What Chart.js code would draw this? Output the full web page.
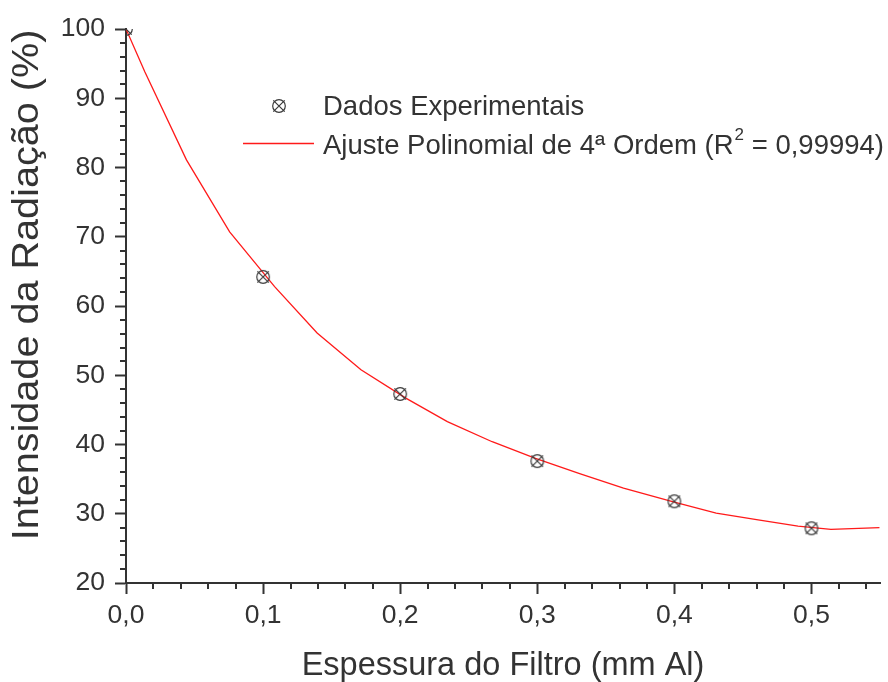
<!DOCTYPE html>
<html><head><meta charset="utf-8">
<script src="https://cdn.jsdelivr.net/npm/chart.js@4"></script>
<style>html,body{margin:0;padding:0;background:#fff}</style>
</head><body>
<canvas id="c" width="888" height="682"></canvas>
<script>
// ---- data ----
const thickness = [0.0, 0.1, 0.2, 0.3, 0.4, 0.5];
const intensity = [100.0, 64.2, 47.3, 37.6, 31.8, 27.9];
const fitX = [0, 0.0138, 0.0441, 0.0756, 0.1084, 0.1394, 0.1714, 0.2041, 0.2344, 0.2671, 0.2987, 0.3309, 0.3629, 0.3993, 0.4305, 0.4611, 0.4902, 0.5142, 0.5496];
const fitY = [100.0, 93.8, 81.1, 70.7, 62.8, 56.1, 50.8, 46.7, 43.3, 40.4, 38.0, 35.8, 33.7, 31.7, 30.1, 29.1, 28.2, 27.75, 28.0];
const xTickValues = [0, 0.1, 0.2, 0.3, 0.4, 0.5];
const xTickLabels = ['0,0', '0,1', '0,2', '0,3', '0,4', '0,5'];
const yTickValues = [20, 30, 40, 50, 60, 70, 80, 90, 100];
const yTickLabels = ['20', '30', '40', '50', '60', '70', '80', '90', '100'];
const xTitle = 'Espessura do Filtro (mm Al)';
const yTitle = 'Intensidade da Radiação (%)';
const legendData = 'Dados Experimentais';
const legendFitPre = 'Ajuste Polinomial de 4ª Ordem (R';
const legendFitSup = '2';
const legendFitPost = ' = 0,99994)';

const FONT = "'Liberation Sans', Arial, Helvetica, sans-serif";
const INK = '#333333';
const RED = '#ff1a1a';

function makeMarker() {
  const c = document.createElement('canvas');
  c.width = 18; c.height = 18;
  const g = c.getContext('2d');
  g.strokeStyle = '#3a3a3a';
  g.lineWidth = 1.2;
  g.beginPath(); g.arc(9, 9, 6.3, 0, 2 * Math.PI); g.stroke();
  g.beginPath();
  g.moveTo(3.3, 3.3); g.lineTo(14.7, 14.7);
  g.moveTo(14.7, 3.3); g.lineTo(3.3, 14.7);
  g.stroke();
  return c;
}
const marker = makeMarker();

const decor = {
  id: 'decor',
  afterDraw(chart) {
    const ctx = chart.ctx;
    const xs = chart.scales.x, ys = chart.scales.y;
    const ca = chart.chartArea;
    ctx.save();
    // minor ticks
    ctx.strokeStyle = INK; ctx.lineWidth = 2;
    ctx.beginPath();
    for (let i = 0; i <= 27; i++) {
      if (i % 5 === 0) continue;
      const px = Math.round(xs.getPixelForValue(i * 0.02));
      ctx.moveTo(px, ca.bottom); ctx.lineTo(px, ca.bottom + 6);
    }
    for (let i = 10; i <= 50; i++) {
      if (i % 5 === 0) continue;
      const py = Math.round(ys.getPixelForValue(i * 2));
      ctx.moveTo(ca.left, py); ctx.lineTo(ca.left - 6, py);
    }
    ctx.stroke();
    // axis titles
    ctx.fillStyle = INK;
    ctx.font = '32.5px ' + FONT;
    ctx.textAlign = 'center'; ctx.textBaseline = 'alphabetic';
    ctx.fillText(xTitle, (ca.left + ca.right) / 2, 675);
    ctx.save();
    ctx.translate(38, 285);
    ctx.rotate(-Math.PI / 2);
    ctx.scale(1.1, 1);
    ctx.font = '36px ' + FONT;
    ctx.fillText(yTitle, 0, 0);
    ctx.restore();
    // legend
    ctx.drawImage(marker, 279 - 9, 106 - 9);
    ctx.font = '27.5px ' + FONT;
    ctx.textAlign = 'left';
    ctx.fillText(legendData, 323, 115);
    ctx.strokeStyle = RED; ctx.lineWidth = 1.3;
    ctx.beginPath(); ctx.moveTo(243, 143.5); ctx.lineTo(314, 143.5); ctx.stroke();
    let x = 323;
    ctx.fillText(legendFitPre, x, 154);
    x += ctx.measureText(legendFitPre).width + 1;
    ctx.font = '17px ' + FONT;
    ctx.fillText(legendFitSup, x, 140);
    x += ctx.measureText(legendFitSup).width;
    ctx.font = '27.5px ' + FONT;
    ctx.fillText(legendFitPost, x, 154);
    ctx.restore();
  }
};

new Chart(document.getElementById('c'), {
  type: 'scatter',
  data: {
    datasets: [
      {
        label: legendData,
        data: thickness.map((v, i) => ({ x: v, y: intensity[i] })),
        pointStyle: marker,
        pointRadius: 7,
        showLine: false,
        clip: 0
      },
      {
        label: 'fit',
        data: fitX.map((v, i) => ({ x: v, y: fitY[i] })),
        showLine: true,
        borderColor: RED,
        borderWidth: 1.3,
        pointRadius: 0,
        tension: 0,
        fill: false,
        clip: 0
      }
    ]
  },
  options: {
    responsive: false,
    animation: false,
    events: [],
    layout: { padding: { left: 0, right: 6, top: 29, bottom: 0 } },
    plugins: { legend: { display: false }, tooltip: { enabled: false } },
    scales: {
      x: {
        type: 'linear', min: 0, max: 0.55,
        afterBuildTicks: s => { s.ticks = xTickValues.map(v => ({ value: v })); },
        afterFit: s => { s.height = 99; },
        ticks: {
          callback: (v, i) => xTickLabels[i],
          font: { family: FONT, size: 26.5 }, color: INK, padding: 6,
          maxRotation: 0, autoSkip: false
        },
        grid: { display: true, drawOnChartArea: false, drawTicks: true, tickLength: 11, tickWidth: 2, tickColor: INK },
        border: { display: true, color: INK, width: 2 }
      },
      y: {
        type: 'linear', min: 20, max: 100,
        afterBuildTicks: s => { s.ticks = yTickValues.map(v => ({ value: v })); },
        afterFit: s => { s.width = 126; },
        ticks: {
          callback: (v, i) => yTickLabels[i],
          font: { family: FONT, size: 26.5 }, color: INK, padding: 10,
          autoSkip: false
        },
        grid: { display: true, drawOnChartArea: false, drawTicks: true, tickLength: 11, tickWidth: 2, tickColor: INK },
        border: { display: true, color: INK, width: 2 }
      }
    }
  },
  plugins: [decor]
});
</script>
</body></html>
